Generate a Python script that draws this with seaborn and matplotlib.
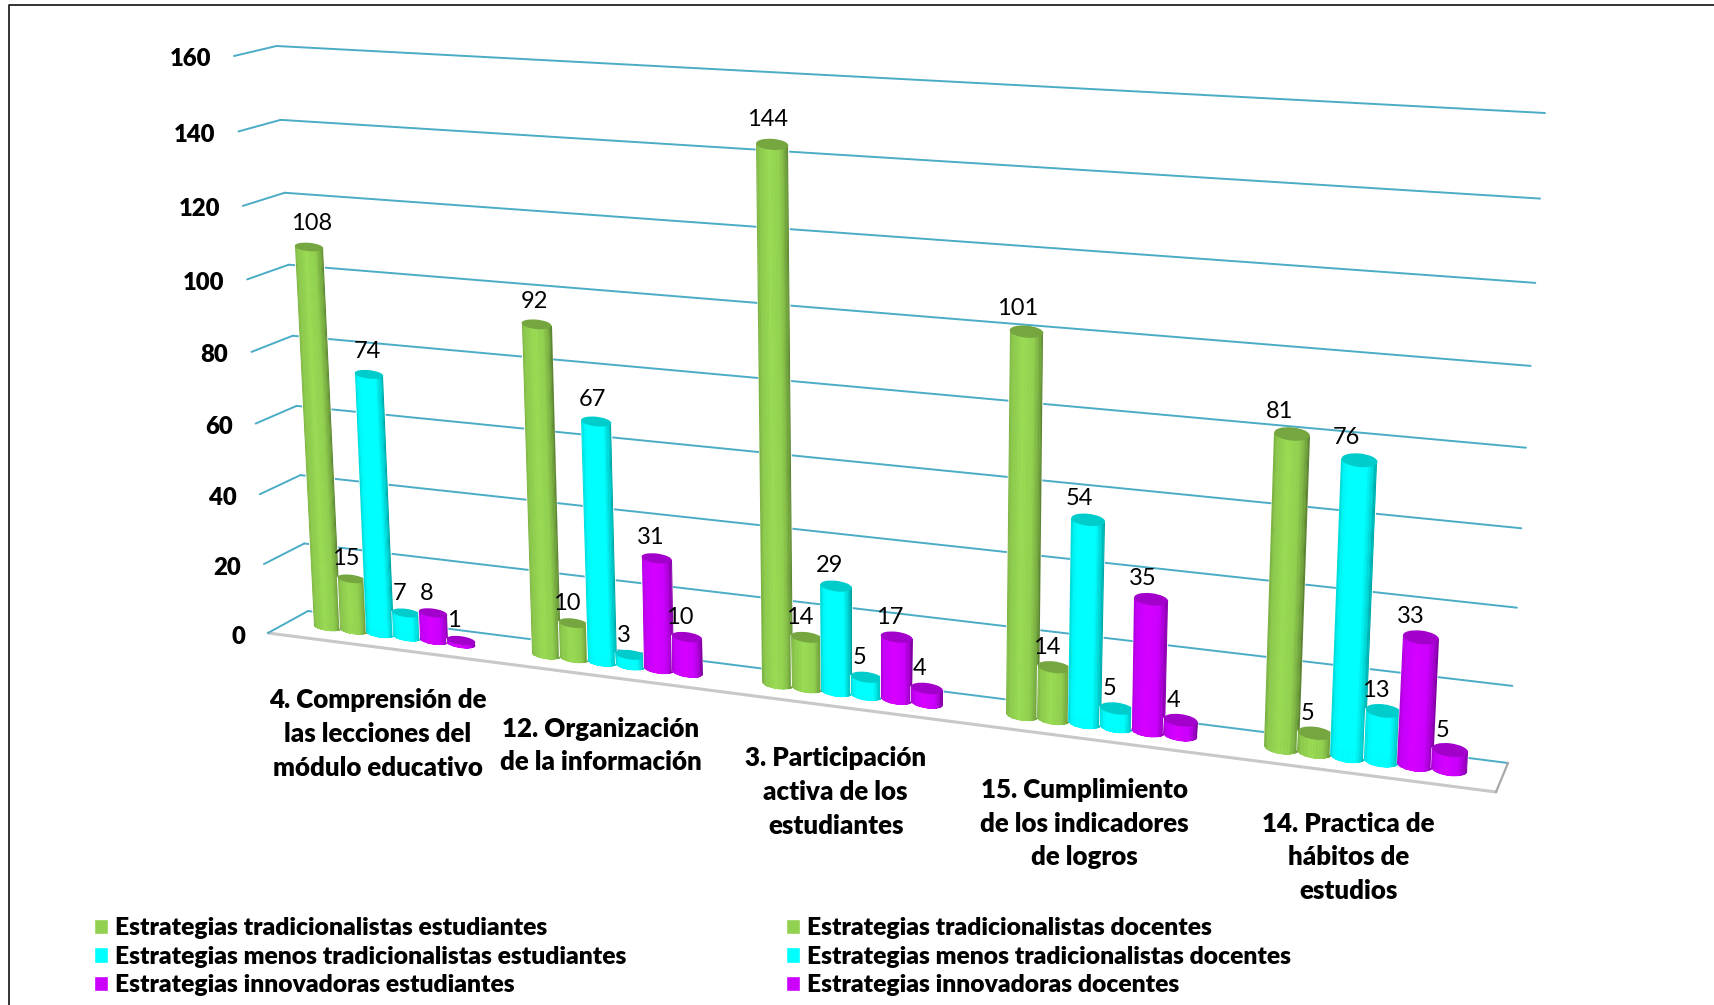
import numpy as np
import pandas as pd
import seaborn as sns
import matplotlib
matplotlib.use("Agg")
import matplotlib.pyplot as plt
from matplotlib.patches import Ellipse, Patch
from matplotlib.transforms import Transform

W, H = 1715, 1005

categories = [
    "4. Comprensión de\nlas lecciones del\nmódulo educativo",
    "12. Organización\nde la información",
    "3. Participación\nactiva de los\nestudiantes",
    "15. Cumplimiento\nde los indicadores\nde logros",
    "14. Practica de\nhábitos de\nestudios",
]
series_names = [
    "Estrategias tradicionalistas estudiantes",
    "Estrategias tradicionalistas docentes",
    "Estrategias menos tradicionalistas estudiantes",
    "Estrategias menos tradicionalistas docentes",
    "Estrategias innovadoras estudiantes",
    "Estrategias innovadoras docentes",
]
trad_est = [108, 92, 144, 101, 81]
trad_doc = [15, 10, 14, 14, 5]
menos_est = [74, 67, 29, 54, 76]
menos_doc = [7, 3, 5, 5, 13]
inno_est = [8, 31, 17, 35, 33]
inno_doc = [1, 10, 4, 4, 5]
y_ticks = [0, 20, 40, 60, 80, 100, 120, 140, 160]

GREEN, CYAN, PURPLE = "#92D050", "#00FFFF", "#CC00FF"
palette = [GREEN, GREEN, CYAN, CYAN, PURPLE, PURPLE]
GRID = "#4BACC6"
BAR_SPAN = 0.74
BOLD = "heavy"


class Homography(Transform):
    # perspective map from (category, value) to image pixels (y going down)
    input_dims = 2
    output_dims = 2
    is_separable = False
    has_inverse = False

    def __init__(self, src, dst):
        super().__init__()
        A, b = [], []
        for (x, y), (u, v) in zip(src, dst):
            A.append([x, y, 1, 0, 0, 0, -u * x, -u * y])
            A.append([0, 0, 0, x, y, 1, -v * x, -v * y])
            b += [u, v]
        self.m = np.append(np.linalg.solve(np.array(A, float), np.array(b, float)), 1).reshape(3, 3)

    def transform_non_affine(self, values):
        xy = np.asarray(values, float)
        p = np.column_stack([xy, np.ones(len(xy))]) @ self.m.T
        return np.column_stack([p[:, 0] / p[:, 2], H - p[:, 1] / p[:, 2]])


# planes of the fake 3D box
x0, x1 = -0.5, 4.5
corners = [(x0, 0), (x0, 160), (x1, 160), (x1, 0)]
back = Homography(corners, [(308, 611), (276.5, 46), (1545, 113), (1508, 763)])
front = Homography(corners, [(268, 633), (234, 56), (1532, 130), (1496, 792)])
first_bar = -BAR_SPAN / 2 + BAR_SPAN / 12
bars_plane = Homography(
    [(first_bar, 0), (first_bar, 108), (4 + first_bar, 81), (4 + first_bar, 0)],
    [(327.5, 627), (309, 247), (1292, 434), (1281.5, 748)],
)

df = pd.DataFrame(
    {
        "pos": range(len(categories)),
        series_names[0]: trad_est,
        series_names[1]: trad_doc,
        series_names[2]: menos_est,
        series_names[3]: menos_doc,
        series_names[4]: inno_est,
        series_names[5]: inno_doc,
    }
).melt(id_vars="pos", var_name="serie", value_name="valor")

sns.set_theme(style="white")
plt.rcParams["font.family"] = ["Lato", "DejaVu Sans"]

fig = plt.figure(figsize=(W / 100, H / 100), dpi=100, facecolor="white")
ax = fig.add_axes([0, 0, 1, 1])
sns.barplot(
    data=df, x="pos", y="valor", hue="serie", palette=palette, native_scale=True,
    width=BAR_SPAN, errorbar=None, legend=False, saturation=1, ax=ax,
)
ax.axis("off")

# walls
for t in y_ticks:
    ax.plot([x0, x1], [t, t], color=GRID, lw=1.4, transform=back, clip_on=False, zorder=1)
    a = front.transform([(x0, t)])[0]
    b = back.transform([(x0, t)])[0]
    fig.add_artist(plt.Line2D([a[0] / W, b[0] / W], [a[1] / H, b[1] / H], color=GRID, lw=1.4, zorder=1))
    ax.annotate(str(t), xy=(x0, t), xycoords=front, xytext=(-23, -3.5), textcoords="offset pixels",
                ha="right", va="center", fontsize=17.2, fontweight=BOLD, color="black")

# floor edges
ax.plot([x0, x1], [0, 0], color="#C8C8C8", lw=2.2, transform=front, clip_on=False, zorder=2)
a = front.transform([(x1, 0)])[0]
b = back.transform([(x1, 0)])[0]
fig.add_artist(plt.Line2D([a[0] / W, b[0] / W], [a[1] / H, b[1] / H], color="#A8A8A8", lw=1.6, zorder=2))

# cylinders: the seaborn bars get the perspective plus shading and caps
t_edges = np.linspace(0, 1, 25)
t_mid = (t_edges[:-1] + t_edges[1:]) / 2
shade = np.interp(t_mid, [0, 0.1, 0.4, 0.72, 0.88, 1], [0.84, 0.96, 1.06, 1.0, 0.82, 0.6])
for s, container in enumerate(ax.containers):
    base = np.array(matplotlib.colors.to_rgb(palette[s]))
    for g, bar in enumerate(container):
        xc, v = bar.get_x() + bar.get_width() / 2, bar.get_height()
        w = bar.get_width() * 1.05
        x = xc - w / 2
        cap_h = 2.4 + 0.25 * xc
        order = 10 + g * 10 + s
        bar.set_x(x)
        bar.set_width(w)
        bar.set_transform(bars_plane)
        bar.set_clip_on(False)
        bar.set_zorder(order)

        ax.add_patch(Ellipse((xc, 0), w, cap_h, transform=bars_plane, color=base * 0.95,
                             lw=0, zorder=order + 0.05, clip_on=False))
        xs = x + w * t_edges
        bottom = -cap_h / 2 * np.sqrt(np.clip(1 - (2 * t_edges - 1) ** 2, 0, 1))
        X = np.vstack([xs, xs])
        Y = np.vstack([bottom, np.full_like(xs, v)])
        rgb = np.clip(base[None, None, :] * shade[None, :, None], 0, 1)
        ax.pcolormesh(X, Y, rgb, transform=bars_plane, zorder=order + 0.1,
                      antialiased=True, clip_on=False, edgecolor="none")
        ax.add_patch(Ellipse((xc, v), w, cap_h, transform=bars_plane, color=base * 0.8,
                             lw=0, zorder=order + 0.2, clip_on=False))

        # labels follow the middle of the leaning column
        lean = bars_plane.transform([(xc, v)])[0][0] - bars_plane.transform([(xc, 0)])[0][0]
        ax.annotate(f"{v:.0f}", xy=(xc, v), xycoords=bars_plane,
                    xytext=(-7 - 0.5 * lean, 19.5 + 0.04 * v),
                    textcoords="offset pixels", ha="center", va="center",
                    fontsize=17, color="black", zorder=200)

# category labels
for i, label in enumerate(categories):
    ax.annotate(label, xy=(i, 0), xycoords=bars_plane, xytext=(-16, -53), textcoords="offset pixels",
                ha="center", va="top", fontsize=18.6, fontweight=BOLD, linespacing=1.48,
                color="black", zorder=200)

# legend, estudiantes on the left and docentes on the right
handles = [Patch(facecolor=c, label=n) for c, n in zip(palette, series_names)]
handles = [handles[k] for k in [0, 2, 4, 1, 3, 5]]
fig.legend(
    handles=handles, ncol=2, frameon=False, loc="upper left",
    bbox_to_anchor=(94 / W, 1 - 917 / H), borderpad=0, borderaxespad=0,
    prop={"size": 17.7, "weight": BOLD}, handlelength=0.57, handleheight=0.6,
    handletextpad=0.28, labelspacing=0.27, columnspacing=6.5, labelcolor="black",
)

# frame of the original picture, only left and top are visible
fig.add_artist(plt.Line2D([9 / W, 9 / W, 1], [0, 1 - 5.5 / H, 1 - 5.5 / H], color="#111111", lw=1.2))

fig.savefig("out.png", dpi=100, facecolor="white")
